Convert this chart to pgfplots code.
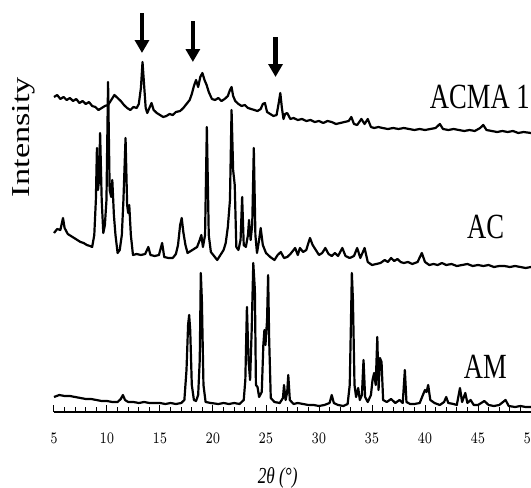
\documentclass[border=0pt]{standalone}
\usepackage{fontspec}
\setmainfont{Liberation Serif}
\usepackage{graphicx}
\usepackage{pgfplots}
\pgfplotsset{compat=1.18}
\usetikzlibrary{arrows.meta}

% heights are measured upward from the 2theta axis line
\pgfplotstableread{
x y
5.0 315
5.3 317
5.6 313
5.9 315
6.2 312
6.5 314
6.8 311
7.1 313
7.4 309
7.7 311
8.0 308
8.3 310
8.6 306
8.9 305
9.2 302
9.5 304
9.8 306
10.1 307
10.4 312
10.7 317
11.0 314
11.3 311
11.6 307
11.9 304
12.2 302
12.5 305
12.8 304
13.0 308
13.2 324
13.35 350
13.5 327
13.65 304
13.8 299
14.0 304
14.2 309
14.4 302
14.7 299
15.0 297
15.3 295
15.6 296
15.9 298
16.2 297
16.5 300
16.9 301
17.2 304
17.5 308
17.8 312
18.0 318
18.2 326
18.4 332
18.6 325
18.8 335
19.0 339
19.2 332
19.4 327
19.6 320
19.9 313
20.2 312
20.5 314
20.8 311
21.1 313
21.4 316
21.6 322
21.75 325
21.9 316
22.1 311
22.4 308
22.7 306
23.0 307
23.3 304
23.6 303
23.9 302
24.2 301
24.5 303
24.7 308
24.9 309
25.1 300
25.4 298
25.7 296
26.0 297
26.2 309
26.35 319
26.5 304
26.65 293
26.8 298
27.0 299
27.3 293
27.6 294
28.0 292
28.4 293
28.8 291
29.2 292
29.6 290
30.0 291
30.4 289
30.8 291
31.2 290
31.6 288
32.0 289
32.4 290
32.8 291
33.05 295
33.3 288
33.6 287
34.0 293
34.3 288
34.6 293
34.9 285
35.2 284
35.6 285
36.0 284
36.5 283
37.0 284
37.5 283
38.0 284
38.5 283
39.0 282
39.5 283
40.0 282
40.5 283
41.0 284
41.4 288
41.7 283
42.2 282
42.7 283
43.2 282
43.7 281
44.2 282
44.7 281
45.2 284
45.5 287
45.8 282
46.3 281
46.8 280
47.3 281
47.8 280
48.3 281
48.8 279
49.3 280
50.0 279
}\acma

\pgfplotstableread{
x y
5.0 179
5.3 183
5.6 182
5.85 194
6.0 184
6.3 178
6.6 176
6.9 174
7.2 172
7.5 170
7.8 169
8.1 167
8.4 166
8.6 165
8.8 177
8.95 212
9.05 264
9.15 222
9.25 232
9.35 279
9.5 212
9.65 179
9.8 187
9.95 212
10.1 330
10.25 222
10.4 215
10.5 232
10.65 197
10.8 177
11.0 159
11.2 162
11.4 177
11.55 212
11.75 274
11.9 207
12.0 199
12.1 207
12.25 177
12.45 157
12.8 158
13.2 157
13.6 158
13.9 165
14.1 157
14.5 156
14.9 157
15.2 169
15.4 155
15.8 154
16.2 154
16.5 158
16.7 167
16.9 187
17.05 194
17.2 180
17.4 167
17.6 159
17.9 161
18.2 163
18.5 165
18.75 172
18.9 177
19.05 165
19.25 177
19.42 285
19.6 177
19.8 160
20.1 156
20.4 152
20.7 157
21.0 162
21.2 169
21.4 185
21.6 212
21.75 302
21.9 242
22.05 227
22.2 165
22.4 162
22.6 172
22.75 215
22.9 167
23.1 165
23.3 177
23.4 192
23.55 172
23.7 187
23.85 264
24.0 177
24.15 159
24.35 172
24.5 184
24.7 167
25.0 159
25.4 155
25.8 152
26.1 157
26.4 160
26.7 154
27.0 155
27.3 158
27.6 162
27.75 164
28.0 157
28.2 164
28.5 160
28.8 162
29.0 169
29.15 174
29.4 167
29.7 162
30.0 157
30.3 159
30.6 164
30.9 158
31.2 156
31.5 159
31.8 156
32.2 164
32.5 156
32.9 154
33.3 156
33.6 164
33.9 154
34.3 164
34.6 150
35.0 147
35.4 148
35.8 149
36.2 152
36.5 150
36.8 154
37.1 151
37.4 153
37.7 150
38.0 149
38.4 150
38.8 148
39.3 150
39.7 159
40.0 150
40.4 147
40.8 148
41.2 147
41.6 149
42.0 147
42.5 148
43.0 146
43.5 147
44.0 148
44.5 146
45.0 147
45.5 146
46.0 147
46.5 145
47.0 146
47.5 146
48.0 145
48.5 146
49.0 145
49.5 144
50.0 145
}\ac

\pgfplotstableread{
x y
5.0 15
5.5 17
6.0 16
6.5 16
7.0 15
7.5 14
8.0 13
8.5 13
9.0 12
9.5 11
10.0 11
10.5 10
11.0 10
11.3 13
11.5 17
11.7 12
12.0 10
12.5 10
13.0 9
13.5 10
14.0 9
14.5 9
15.0 9
15.5 8
16.0 9
16.5 8
17.0 9
17.3 12
17.5 42
17.65 87
17.75 97
17.85 82
18.0 27
18.2 12
18.4 11
18.6 17
18.75 52
18.85 139
18.95 112
19.1 27
19.3 10
19.8 9
20.5 8
21.0 9
21.5 8
22.0 9
22.5 8
22.9 12
23.05 32
23.2 105
23.35 52
23.5 32
23.65 82
23.8 149
23.95 122
24.05 27
24.2 25
24.35 15
24.6 20
24.75 67
24.85 82
24.95 67
25.1 92
25.2 137
25.3 72
25.45 14
25.8 10
26.3 9
26.6 14
26.7 27
26.85 12
27.0 20
27.1 37
27.25 12
27.6 8
28.0 9
28.5 8
29.0 7
29.5 7
30.0 6
30.5 7
31.0 9
31.2 17
31.4 9
31.8 7
32.3 6
32.7 8
32.9 27
33.0 82
33.1 139
33.2 112
33.35 27
33.5 15
33.7 24
33.85 12
34.05 17
34.2 52
34.35 15
34.6 10
34.9 17
35.05 32
35.2 39
35.35 27
35.5 75
35.62 22
35.75 54
35.9 50
36.05 12
36.4 10
36.8 13
37.2 9
37.6 12
37.9 9
38.1 42
38.25 10
38.6 8
39.0 8
39.5 9
39.8 17
40.0 22
40.15 20
40.3 27
40.5 12
40.9 9
41.4 7
41.8 10
42.0 15
42.2 9
42.7 8
43.0 7
43.3 24
43.5 10
43.8 19
44.0 9
44.3 12
44.6 7
45.0 7
45.6 11
46.0 7
46.5 6
47.0 7
47.6 12
47.9 6
48.5 5
49.0 6
49.5 5
50.0 5
}\am

\begin{document}
\begin{tikzpicture}
\begin{axis}[
    name=ax,
    scale only axis,
    width=238.5pt, height=206pt,
    xmin=5, xmax=50,
    ymin=0, ymax=412,
    axis x line=bottom,
    axis y line=none,
    x axis line style={line width=1pt, -},
    xtick={5,10,...,50},
    minor x tick num=4,
    xtick align=inside,
    major tick length=3.5pt,
    minor tick length=2.3pt,
    every tick/.style={black, line width=0.5pt},
    xticklabel={\scalebox{1}[1.33]{\pgfmathprintnumber{\tick}}},
    xticklabel style={font=\fontsize{6.5}{7}\selectfont, anchor=center, yshift=-13pt},
    clip=false,
]
\addplot[black, line width=1.1pt, line join=round] table {\acma};
\addplot[black, line width=1.1pt, line join=round] table {\ac};
\addplot[black, line width=1.1pt, line join=round] table {\am};

\node[anchor=west, font=\fontsize{13.3}{14}\selectfont] at (axis cs:39.8,315) {\scalebox{1}[1.33]{ACMA 1}};
\node[anchor=west, font=\fontsize{13.3}{14}\selectfont] at (axis cs:43.3,185) {\scalebox{1}[1.33]{AC}};
\node[anchor=west, font=\fontsize{13.3}{14}\selectfont] at (axis cs:43.0,45) {\scalebox{1}[1.33]{AM}};

\node[rotate=90, font=\fontsize{12.9}{14}\selectfont] at (axis cs:2.1,275) {\scalebox{1.33}[1]{Intensity}};
\node[font=\fontsize{8.6}{10}\selectfont\itshape] at (axis cs:26.1,-66) {\scalebox{1}[1.33]{2θ (°)}};

\draw[line width=2.2pt, -{Triangle[width=7pt,length=6.5pt]}] (axis cs:13.3,399) -- (axis cs:13.3,359);
\draw[line width=2.2pt, -{Triangle[width=7pt,length=6.5pt]}] (axis cs:18.1,391) -- (axis cs:18.1,350);
\draw[line width=2.2pt, -{Triangle[width=7pt,length=6.5pt]}] (axis cs:25.9,375) -- (axis cs:25.9,335);
\end{axis}
\pgfresetboundingbox
\useasboundingbox ([xshift=-27pt,yshift=-38pt]ax.south west) rectangle (ax.north east);
\end{tikzpicture}
\end{document}
